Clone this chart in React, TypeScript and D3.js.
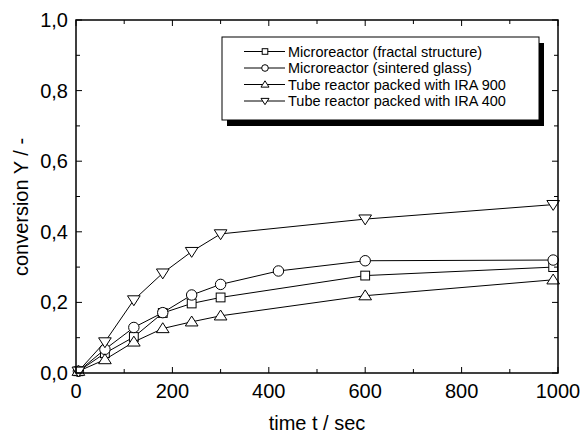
import React from "react";
import * as d3 from "d3";

const times = [5, 60, 120, 180, 240, 300, 600, 990];
const fractal = [0.005, 0.056, 0.102, 0.17, 0.197, 0.214, 0.276, 0.3];
const sinteredTimes = [5, 60, 120, 180, 240, 300, 420, 600, 990];
const sintered = [0.005, 0.067, 0.129, 0.171, 0.221, 0.251, 0.289, 0.318, 0.32];
const ira900 = [0.005, 0.038, 0.088, 0.126, 0.145, 0.162, 0.219, 0.264];
const ira400 = [0.005, 0.088, 0.207, 0.283, 0.344, 0.394, 0.436, 0.477];

const seriesNames = [
  "Microreactor (fractal structure)",
  "Microreactor (sintered glass)",
  "Tube reactor packed with IRA 900",
  "Tube reactor packed with IRA 400",
];
const xTicks = [0, 200, 400, 600, 800, 1000];
const yTicks = [0, 0.2, 0.4, 0.6, 0.8, 1.0];
const xMinor = [100, 300, 500, 700, 900];
const yMinor = [0.1, 0.3, 0.5, 0.7, 0.9];

type Shape = "square" | "circle" | "up" | "down";

function Marker({ x, y, shape, s }: { x: number; y: number; shape: Shape; s: number }) {
  const common = { fill: "white", stroke: "black", strokeWidth: 1 };
  if (shape === "square") return <rect x={x - s * 0.8} y={y - s * 0.8} width={s * 1.6} height={s * 1.6} {...common} />;
  if (shape === "circle") return <circle cx={x} cy={y} r={s * 0.95} {...common} />;
  const h = s * 1.0;
  const w = s * 1.15;
  if (shape === "up")
    return <path d={`M${x},${y - h * 1.05}L${x + w},${y + h * 0.75}L${x - w},${y + h * 0.75}Z`} {...common} />;
  return <path d={`M${x},${y + h * 1.05}L${x + w},${y - h * 0.75}L${x - w},${y - h * 0.75}Z`} {...common} />;
}

export default function App() {
  const W = 581, H = 433;
  const left = 76, right = 558, top = 20, bottom = 373;
  const x = d3.scaleLinear().domain([0, 1000]).range([left, right]);
  const y = d3.scaleLinear().domain([0, 1]).range([bottom, top]);
  const line = d3.line<[number, number]>().x((d) => x(d[0])).y((d) => y(d[1]));

  const series: { t: number[]; v: number[]; shape: Shape }[] = [
    { t: times, v: fractal, shape: "square" },
    { t: sinteredTimes, v: sintered, shape: "circle" },
    { t: times, v: ira900, shape: "up" },
    { t: times, v: ira400, shape: "down" },
  ];
  const font = "'Liberation Sans', Arial, sans-serif";
  const fmt = (v: number) => v.toFixed(1).replace(".", ",");

  const lg = { x: 222, y: 37, w: 317, h: 83 };

  return (
    <svg width={W} height={H} style={{ position: "absolute", left: 0, top: 0 }} fontFamily={font}>
      <rect width={W} height={H} fill="white" />
      {series.map((s, i) => (
        <g key={i}>
          <path d={line(s.t.map((t, j) => [t, s.v[j]] as [number, number])) || ""} fill="none" stroke="black" strokeWidth={1} />
          {s.t.map((t, j) => (
            <Marker key={j} x={x(t)} y={y(s.v[j])} shape={s.shape} s={5.5} />
          ))}
        </g>
      ))}
      <rect x={left} y={top} width={right - left} height={bottom - top} fill="none" stroke="black" strokeWidth={1.5} />
      {xTicks.map((t) => (
        <g key={"xt" + t}>
          <line x1={x(t)} x2={x(t)} y1={bottom} y2={bottom - 6} stroke="black" />
          <line x1={x(t)} x2={x(t)} y1={top} y2={top + 6} stroke="black" />
          <text x={x(t)} y={398} textAnchor="middle" fontSize={20}>{t}</text>
        </g>
      ))}
      {xMinor.map((t) => (
        <g key={"xm" + t}>
          <line x1={x(t)} x2={x(t)} y1={bottom} y2={bottom - 4} stroke="black" />
          <line x1={x(t)} x2={x(t)} y1={top} y2={top + 4} stroke="black" />
        </g>
      ))}
      {yTicks.map((t) => (
        <g key={"yt" + t}>
          <line x1={left} x2={left + 6} y1={y(t)} y2={y(t)} stroke="black" />
          <line x1={right} x2={right - 6} y1={y(t)} y2={y(t)} stroke="black" />
          <text x={68} y={y(t) + 7} textAnchor="end" fontSize={20}>{fmt(t)}</text>
        </g>
      ))}
      {yMinor.map((t) => (
        <g key={"ym" + t}>
          <line x1={left} x2={left + 4} y1={y(t)} y2={y(t)} stroke="black" />
          <line x1={right} x2={right - 4} y1={y(t)} y2={y(t)} stroke="black" />
        </g>
      ))}
      <text x={317} y={430} textAnchor="middle" fontSize={20}>time t / sec</text>
      <text transform={`translate(28,207) rotate(-90)`} textAnchor="middle" fontSize={20}>conversion Y / -</text>
      <rect x={lg.x + 5} y={lg.y + 6} width={lg.w} height={lg.h} fill="black" />
      <rect x={lg.x} y={lg.y} width={lg.w} height={lg.h} fill="white" stroke="black" strokeWidth={1} />
      {seriesNames.map((n, i) => {
        const cy = 51.5 + i * 16.5;
        return (
          <g key={n}>
            <line x1={244} x2={285} y1={cy} y2={cy} stroke="black" />
            <Marker x={265} y={cy} shape={series[i].shape} s={3.5} />
            <text x={288} y={cy + 5} fontSize={14.5}>{n}</text>
          </g>
        );
      })}
    </svg>
  );
}
